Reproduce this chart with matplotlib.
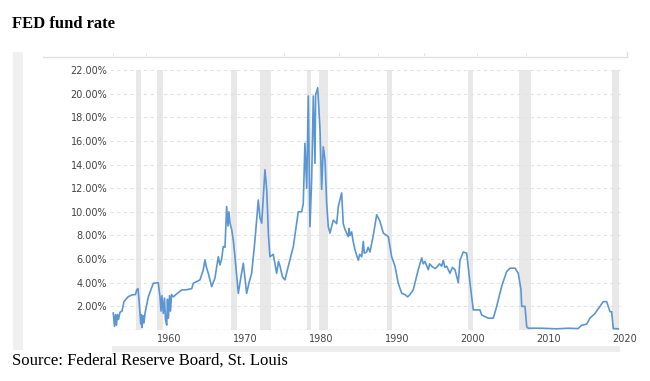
"""
FED fund rate の推移チャート (macrotrends 風スクリーンショットの再現)
"""
import matplotlib
matplotlib.use('Agg')
import matplotlib.pyplot as plt
from matplotlib.patches import Rectangle
from matplotlib.lines import Line2D

plt.rcParams['font.family'] = 'DejaVu Sans'

# --- データ (チャートの目盛り上の年で読み取り) ---
years = [
    1952.67, 1952.83, 1952.96, 1953.09, 1953.22, 1953.36, 1953.55, 1953.82, 1954.08, 1954.6,
    1955.13, 1955.59, 1955.75, 1955.92, 1956.05, 1956.18, 1956.29, 1956.38, 1956.47, 1956.58,
    1956.71, 1956.84, 1957.28, 1957.93, 1958.59, 1958.82, 1958.95, 1959.08, 1959.25, 1959.41,
    1959.54, 1959.7, 1959.8, 1959.93, 1960.07, 1960.2, 1960.33, 1960.57, 1960.92, 1961.67,
    1962.24, 1962.99, 1963.2, 1964.08, 1964.51, 1964.74, 1964.93, 1965.17, 1965.62, 1966.05,
    1966.49, 1966.71, 1966.93, 1967.14, 1967.37, 1967.59, 1967.76, 1967.89, 1968.03, 1968.25,
    1968.46, 1968.68, 1969.12, 1969.47, 1969.78, 1970.0, 1970.22, 1970.53, 1970.88, 1971.32,
    1971.75, 1971.97, 1972.2, 1972.43, 1972.63, 1972.86, 1973.09, 1973.29, 1973.72, 1974.17,
    1974.41, 1974.61, 1974.93, 1975.26, 1975.7, 1976.36, 1977.01, 1977.46, 1977.67, 1977.89,
    1978.12, 1978.33, 1978.55, 1978.78, 1978.99, 1979.21, 1979.3, 1979.57, 1979.87, 1980.09,
    1980.3, 1980.53, 1980.75, 1980.96, 1981.18, 1981.62, 1982.07, 1982.28, 1982.72, 1982.93,
    1983.16, 1983.38, 1983.59, 1983.7, 1983.82, 1984.04, 1984.2, 1984.47, 1984.91, 1985.1,
    1985.36, 1985.57, 1985.7, 1986.01, 1986.2, 1986.45, 1986.88, 1987.33, 1987.76, 1988.2,
    1988.86, 1989.3, 1989.74, 1990.17, 1990.62, 1991.05, 1991.4, 1991.71, 1992.14, 1992.8,
    1993.25, 1993.45, 1993.68, 1994.12, 1994.3, 1994.57, 1995.0, 1995.22, 1995.6, 1995.88,
    1996.09, 1996.3, 1996.54, 1996.97, 1997.3, 1997.63, 1998.07, 1998.29, 1998.72, 1999.17,
    1999.61, 2000.04, 2000.92, 2001.14, 2002.01, 2002.67, 2003.12, 2003.78, 2004.43, 2004.87,
    2005.53, 2005.96, 2006.32, 2006.41, 2006.84, 2007.07, 2007.28, 2009.0, 2011.0, 2012.5,
    2013.82, 2014.3, 2014.96, 2015.39, 2016.05, 2016.71, 2017.14, 2017.59, 2018.03, 2018.25,
    2018.46, 2019.12,
]
rates = [
    1.44, 0.3, 1.3, 0.4, 1.3, 0.9, 1.5, 1.6, 2.4, 2.8,
    2.97, 3.0, 3.4, 3.5, 2.6, 1.4, 0.5, 1.3, 0.2, 1.2,
    0.6, 1.4, 2.8, 3.95, 4.0, 2.8, 1.6, 2.9, 1.4, 2.7,
    0.9, 0.42, 2.6, 1.0, 2.9, 1.6, 3.0, 2.8, 3.0, 3.39,
    3.4, 3.5, 3.95, 4.24, 5.08, 5.93, 5.3, 4.8, 3.67, 4.4,
    6.2, 5.5, 6.0, 7.06, 7.0, 10.45, 8.8, 10.0, 9.04, 8.5,
    7.6, 6.2, 3.1, 4.5, 5.65, 4.4, 3.1, 4.0, 4.8, 7.63,
    11.0, 9.5, 9.04, 11.5, 13.56, 11.86, 8.0, 6.2, 6.4, 4.8,
    5.8, 5.4, 4.5, 4.24, 5.4, 7.06, 10.0, 10.0, 10.7, 15.8,
    12.0, 19.8, 8.75, 12.9, 19.8, 14.1, 19.9, 20.5, 17.0, 11.9,
    15.5, 14.4, 10.7, 8.75, 8.2, 9.3, 9.0, 10.45, 11.6, 9.0,
    8.5, 8.2, 7.9, 8.6, 8.0, 8.3, 7.6, 6.8, 5.9, 6.4,
    6.2, 7.5, 6.5, 6.6, 7.0, 6.6, 8.0, 9.75, 9.2, 8.2,
    7.9, 6.2, 5.4, 3.95, 3.1, 3.0, 2.8, 3.0, 3.4, 5.1,
    6.1, 5.6, 5.8, 5.1, 5.6, 5.4, 5.2, 5.3, 5.6, 5.4,
    5.9, 5.3, 5.4, 4.8, 5.3, 5.1, 4.0, 5.9, 6.6, 6.5,
    3.95, 1.7, 1.7, 1.27, 1.0, 1.0, 2.0, 3.7, 4.94, 5.23,
    5.23, 4.8, 3.4, 2.0, 2.0, 0.28, 0.15, 0.15, 0.1, 0.15,
    0.12, 0.4, 0.5, 1.0, 1.4, 2.0, 2.4, 2.4, 1.55, 1.55,
    0.12, 0.1,
]

# 景気後退期 (グレーの帯)
recession_start = [1955.7, 1958.4, 1968.2, 1972.0, 1978.2, 1979.7, 1988.7, 1999.3, 2006.0, 2018.3]
recession_end = [1956.3, 1959.2, 1968.9, 1973.4, 1978.7, 1980.9, 1989.3, 2000.0, 2007.6, 2019.2]

y_ticks = [2, 4, 6, 8, 10, 12, 14, 16, 18, 20, 22]
x_ticks = [1960, 1970, 1980, 1990, 2000, 2010, 2020]

X_MIN, X_MAX = 1952.24, 2019.35   # プロット領域の左右 (グリッド線の範囲)

W, H = 650, 381


def fx(px):
    return px / W


def fy(py):
    return 1 - py / H


fig = plt.figure(figsize=(W / 100, H / 100), dpi=100)

# --- 枠の装飾 (スクリーンショットの名残) ---
fig.add_artist(Rectangle((fx(13), fy(350)), 10 / W, 298 / H, transform=fig.transFigure,
                         color='#f0f0f0', lw=0))
fig.add_artist(Line2D([fx(43), fx(627)], [fy(57), fy(57)], transform=fig.transFigure,
                      color='#e0e0e0', lw=1.0))
fig.add_artist(Line2D([fx(627), fx(627)], [fy(52), fy(57)], transform=fig.transFigure,
                      color='#e0e0e0', lw=1.0))
for px in [113, 146, 284, 339, 378, 424, 477, 526]:
    fig.add_artist(Line2D([fx(px), fx(px)], [fy(53), fy(55)], transform=fig.transFigure,
                          color='#e6e6e6', lw=0.8))
fig.add_artist(Rectangle((fx(112), fy(352)), 508 / W, 6 / H, transform=fig.transFigure,
                         color='#ededed', lw=0))

# --- メインの軸 ---
ax = fig.add_axes([fx(110), fy(330), (626.5 - 110) / W, (330 - 70) / H])
ax.set_xlim(X_MIN, 2020.2)
ax.set_ylim(0, 22)
ax.patch.set_alpha(0)
for s in ax.spines.values():
    s.set_visible(False)

for s0, s1 in zip(recession_start, recession_end):
    ax.axvspan(s0, s1, color='#e8e8e8', lw=0, zorder=1)

ax.hlines(y_ticks, X_MIN, X_MAX, colors='#e2e2e2', linestyles=(0, (3, 3)), lw=0.8, zorder=2)
ax.hlines([0], X_MIN, X_MAX, colors='#c4c4c4', linestyles=(0, (3, 3)), lw=0.9, zorder=2)

ax.plot(years, rates, color='#5b96d3', lw=1.2, zorder=3)

ax.set_yticks(y_ticks)
ax.set_yticklabels([f'{v:.2f}%' for v in y_ticks])
ax.set_xticks(x_ticks)
ax.set_xticklabels([str(v) for v in x_ticks])
ax.tick_params(axis='both', length=0, labelsize=7, labelcolor='#444444')
ax.tick_params(axis='y', pad=2)
ax.tick_params(axis='x', pad=3)

# --- タイトルと出典 ---
fig.text(fx(12), fy(24), 'FED fund rate', fontsize=12, fontweight='bold',
         family='Liberation Serif', va='center', ha='left')
fig.text(fx(12), fy(361), 'Source: Federal Reserve Board, St. Louis', fontsize=12,
         family='Liberation Serif', va='center', ha='left')

fig.savefig('out.png', dpi=100)
plt.close(fig)
